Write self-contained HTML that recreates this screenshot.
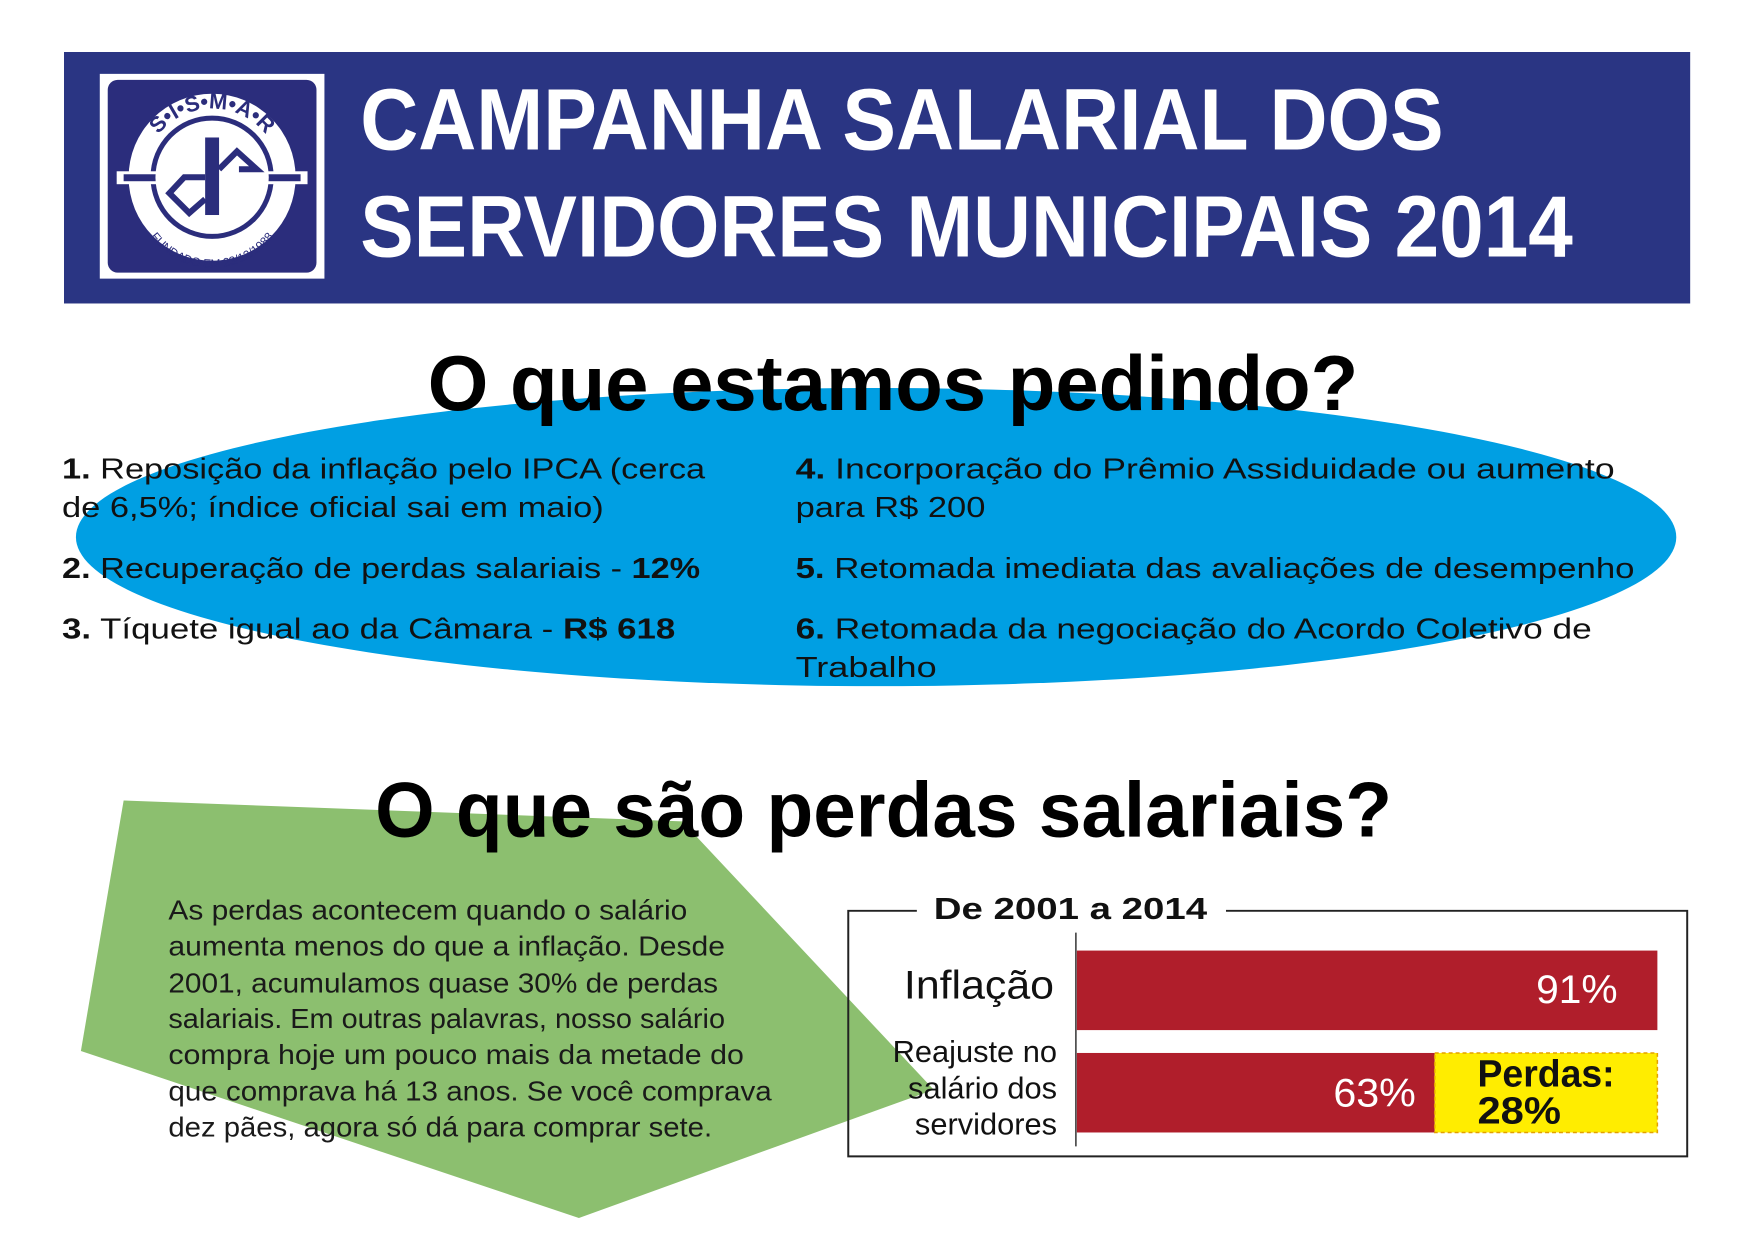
<!DOCTYPE html>
<html><head><meta charset="utf-8"><style>
html,body{margin:0;padding:0;background:#fff;}
svg{display:block;}
text{font-family:"Liberation Sans Narrow","Liberation Sans",sans-serif;}
.h{font-family:"Liberation Sans","DejaVu Sans",sans-serif;font-weight:bold;}
</style></head><body>
<svg width="1754" height="1240" viewBox="0 0 1754 1240" xmlns="http://www.w3.org/2000/svg">
<rect width="1754" height="1240" fill="#fff"/>
<g transform="translate(64,52) scale(0.994) translate(-64,-52)">
<!-- banner -->
<rect x="64" y="52" width="1636" height="253" fill="#2a3583"/>
<rect x="100" y="74" width="226" height="206" fill="#fff"/>
<rect x="108" y="80" width="210" height="194" rx="10" fill="#2b2d7c"/>
<circle cx="213" cy="178" r="84" fill="#fff"/>
<circle cx="213" cy="178" r="62" fill="#2b2d7c"/>
<rect x="117" y="172" width="192" height="13" fill="#fff"/>
<rect x="124" y="175" width="178" height="7" fill="#2b2d7c"/>
<circle cx="213" cy="178" r="57" fill="#fff"/>
<rect x="206" y="138" width="14" height="78" fill="#2b2d7c"/>
<path d="M206 178 L185 178 L170 194 L190 214 L206 200" fill="none" stroke="#2b2d7c" stroke-width="6"/>
<path d="M220 170 L238 152 L258 170 L240 170" fill="none" stroke="#2b2d7c" stroke-width="6"/>
<defs>
<path id="arcTop" d="M144 178 A69 69 0 0 1 282 178"/>
<path id="arcBot" d="M136 192 A77 77 0 0 0 290 192"/>
</defs>
<text font-family="Liberation Sans,sans-serif" font-weight="bold" font-size="22" fill="#2b2d7c"><textPath href="#arcTop" startOffset="50%" text-anchor="middle">S•I•S•M•A•R</textPath></text>
<text font-family="Liberation Sans,sans-serif" font-size="12" fill="#2b2d7c"><textPath href="#arcBot" startOffset="50%" text-anchor="middle">FUNDADO EM 23/12/1988</textPath></text>
<text class="h" x="362" y="150" font-size="88" fill="#fff" textLength="1090" lengthAdjust="spacingAndGlyphs">CAMPANHA SALARIAL DOS</text>
<text class="h" x="362" y="258" font-size="88" fill="#fff" textLength="1220" lengthAdjust="spacingAndGlyphs">SERVIDORES MUNICIPAIS 2014</text>
<!-- ellipse -->
<ellipse cx="881" cy="540" rx="805" ry="150" fill="#009fe3"/>
<text class="h" x="430" y="412" font-size="78" fill="#000" textLength="936" lengthAdjust="spacingAndGlyphs">O que estamos pedindo?</text>
<g font-size="29" fill="#111">
<text x="62" y="481" textLength="647" lengthAdjust="spacingAndGlyphs"><tspan font-weight="bold">1.</tspan> Reposição da inflação pelo IPCA (cerca</text>
<text x="62" y="520" textLength="545" lengthAdjust="spacingAndGlyphs">de 6,5%; índice oficial sai em maio)</text>
<text x="62" y="581" textLength="642" lengthAdjust="spacingAndGlyphs"><tspan font-weight="bold">2.</tspan> Recuperação de perdas salariais - <tspan font-weight="bold">12%</tspan></text>
<text x="62" y="642" textLength="617" lengthAdjust="spacingAndGlyphs"><tspan font-weight="bold">3.</tspan> Tíquete igual ao da Câmara - <tspan font-weight="bold">R$ 618</tspan></text>
<text x="800" y="481" textLength="824" lengthAdjust="spacingAndGlyphs"><tspan font-weight="bold">4.</tspan> Incorporação do Prêmio Assiduidade ou aumento</text>
<text x="800" y="520" textLength="191" lengthAdjust="spacingAndGlyphs">para R$ 200</text>
<text x="800" y="581" textLength="844" lengthAdjust="spacingAndGlyphs"><tspan font-weight="bold">5.</tspan> Retomada imediata das avaliações de desempenho</text>
<text x="800" y="642" textLength="801" lengthAdjust="spacingAndGlyphs"><tspan font-weight="bold">6.</tspan> Retomada da negociação do Acordo Coletivo de</text>
<text x="800" y="681" textLength="142" lengthAdjust="spacingAndGlyphs">Trabalho</text>
</g>
<!-- green shape -->
<polygon points="124,805 686,826 939,1096 582,1225 81,1057" fill="#8cbf6f"/>
<text class="h" x="377" y="841" font-size="78" fill="#000" textLength="1023" lengthAdjust="spacingAndGlyphs">O que são perdas salariais?</text>
<g font-size="28" fill="#1a1a1a">
<text x="169" y="925" textLength="522" lengthAdjust="spacingAndGlyphs">As perdas acontecem quando o salário</text>
<text x="169" y="961" textLength="560" lengthAdjust="spacingAndGlyphs">aumenta menos do que a inflação. Desde</text>
<text x="169" y="998" textLength="553" lengthAdjust="spacingAndGlyphs">2001, acumulamos quase 30% de perdas</text>
<text x="169" y="1034" textLength="560" lengthAdjust="spacingAndGlyphs">salariais. Em outras palavras, nosso salário</text>
<text x="169" y="1070" textLength="579" lengthAdjust="spacingAndGlyphs">compra hoje um pouco mais da metade do</text>
<text x="169" y="1107" textLength="607" lengthAdjust="spacingAndGlyphs">que comprava há 13 anos. Se você comprava</text>
<text x="169" y="1143" textLength="547" lengthAdjust="spacingAndGlyphs">dez pães, agora só dá para comprar sete.</text>
</g>
<!-- chart box -->
<path d="M922 916 L853 916 L853 1163 L1697 1163 L1697 916 L1233 916" fill="none" stroke="#222" stroke-width="2"/>
<text x="939" y="924" font-size="31" font-weight="bold" fill="#111" textLength="275" lengthAdjust="spacingAndGlyphs">De 2001 a 2014</text>
<line x1="1082" y1="938" x2="1082" y2="1153" stroke="#333" stroke-width="1.5"/>
<rect x="1083" y="956" width="584" height="80" fill="#b01e2b"/>
<rect x="1083" y="1059" width="360" height="80" fill="#b01e2b"/>
<rect x="1443" y="1059" width="224" height="80" fill="#ffed00" stroke="#e3a000" stroke-width="1.5" stroke-dasharray="4,3"/>
<text x="909" y="1004" font-size="40" fill="#111" textLength="151" lengthAdjust="spacingAndGlyphs">Inflação</text>
<g font-size="31" fill="#111" text-anchor="end">
<text x="1063" y="1068">Reajuste no</text>
<text x="1063" y="1105">salário dos</text>
<text x="1063" y="1141">servidores</text>
</g>
<text x="1545" y="1009" font-size="40" fill="#fff" textLength="82" lengthAdjust="spacingAndGlyphs">91%</text>
<text x="1341" y="1113" font-size="40" fill="#fff" textLength="83" lengthAdjust="spacingAndGlyphs">63%</text>
<text x="1486" y="1093" font-size="38" font-weight="bold" fill="#111" textLength="138" lengthAdjust="spacingAndGlyphs">Perdas:</text>
<text x="1486" y="1130" font-size="38" font-weight="bold" fill="#111" textLength="84" lengthAdjust="spacingAndGlyphs">28%</text>
</g>
</svg>
</body></html>
